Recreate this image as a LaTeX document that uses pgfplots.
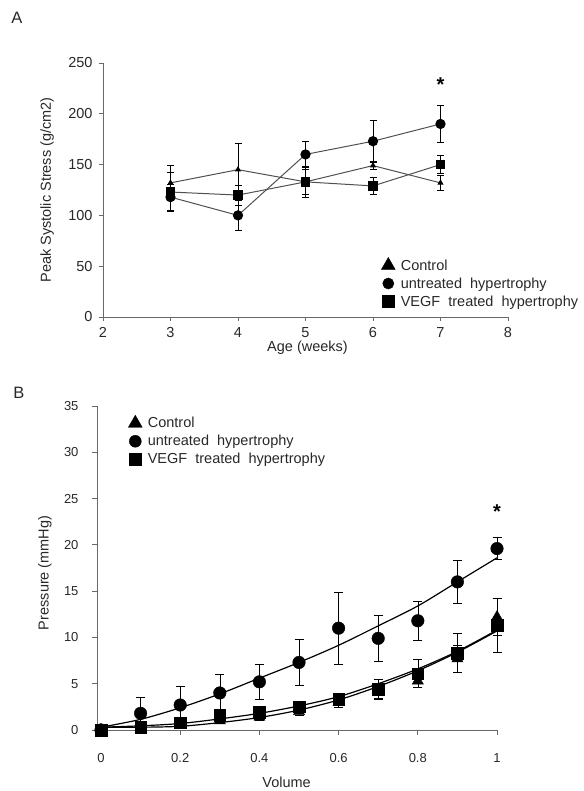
\documentclass[border=0pt]{standalone}
\usepackage{fontspec}
\setmainfont{Liberation Sans}
\usepackage{pgfplots}
\pgfplotsset{compat=1.18}

\definecolor{txt}{RGB}{40,40,40}
\definecolor{axgray}{RGB}{105,105,105}
\definecolor{linegray}{RGB}{80,80,80}

\pgfplotsset{
  panel/.style={
    scale only axis,
    axis x line*=bottom, axis y line*=left,
    axis line style={axgray, line width=0.8pt, -},
    tick align=outside, major tick length=4pt,
    tick style={axgray, line width=0.8pt},
    /pgf/number format/assume math mode=true,
    ticklabel style={text=txt},
    clip=false,
    legend cell align=left,
  },
  legmark/.style 2 args={legend image code/.code={%
    \path[draw=none, fill=none] (0pt,-5pt) rectangle (20pt,5pt);
    \draw[black,fill=black] plot[mark=#1, mark size=#2] coordinates {(8.5pt,0pt)};}},
  ebars/.style={error bars/.cd, y dir=both, y explicit,
    error bar style={black, line width=0.6pt},
    error mark options={rotate=90, mark size=#1, black, line width=0.6pt}},
}

\begin{document}
\begin{tikzpicture}
\path (0,0) rectangle (583pt,791pt);

% ---------- panel A ----------
\node[text=txt, font=\fontsize{16.5}{18}\selectfont] at (17pt,773pt) {A};
\begin{axis}[panel,
  at={(103pt,474pt)}, anchor=south west,
  width=405pt, height=254pt,
  xmin=2, xmax=8, ymin=0, ymax=250,
  xtick={2,...,8}, ytick={0,50,...,250},
  tick label style={font=\fontsize{14.5}{17}\selectfont},
  xticklabel style={yshift=-3pt},
  yticklabel style={xshift=-3pt},
  xlabel={Age (weeks)}, ylabel={Peak Systolic Stress (g/cm2)},
  every axis x label/.style={at={(axis description cs:0.505,-0.122)}, anchor=center,
    text=txt, font=\fontsize{14.5}{17}\selectfont},
  every axis y label/.style={at={(axis description cs:-0.138,0.5)}, rotate=90, anchor=center,
    text=txt, font=\fontsize{14.5}{17}\selectfont},
  legend style={at={(0.683,0.235)}, anchor=north west, draw=none, fill=none,
    inner sep=0pt, row sep=4pt, font=\fontsize{14.5}{17}\selectfont,
    nodes={inner sep=1pt, text=txt}},
]
\addlegendimage{legmark={triangle*}{8pt}}
\addlegendentry{Control}
\addlegendimage{legmark={*}{5.6pt}}
\addlegendentry{untreated\ \ hypertrophy}
\addlegendimage{legmark={square*}{6pt}}
\addlegendentry{VEGF\ \ treated\ \ hypertrophy}

\addplot[forget plot, linegray, line width=1pt, mark=triangle*, mark size=2.6pt,
  mark options={black}, ebars=3.5pt] table[x=x, y=y, y error=e] {
x y e
3 132 17
4 145 26
5 133 15
6 149 4
7 132 7
};
\addplot[forget plot, linegray, line width=1pt, mark=*, mark size=4.6pt,
  mark options={black}, ebars=3.5pt] table[x=x, y=y, y error=e] {
x y e
3 118 13
4 100 15
5 160 13
6 173 21
7 190 18
};
\addplot[forget plot, linegray, line width=1pt, mark=square*, mark size=4.3pt,
  mark options={black}, ebars=3.5pt] table[x=x, y=y, y error=e] {
x y e
3 123 19
4 120 10
5 133 12
6 129 8
7 150 9
};
\node[font=\fontsize{20}{20}\selectfont\bfseries, text=black] at (axis cs:7,229) {*};
\end{axis}

% ---------- panel B ----------
\node[text=txt, font=\fontsize{16.5}{18}\selectfont] at (19pt,398pt) {B};
\begin{axis}[panel,
  at={(97pt,61pt)}, anchor=south west,
  width=400pt, height=324pt,
  xmin=-0.0101, xmax=1, ymin=0, ymax=35,
  xtick={0,0.2,...,1}, ytick={0,5,...,35},
  major tick length=5pt,
  xticklabel style={yshift=-15pt},
  yticklabel style={xshift=-10pt},
  tick label style={font=\fontsize{13}{15}\selectfont},
  xlabel={Volume}, ylabel={Pressure (mmHg)},
  every axis x label/.style={at={(axis description cs:0.474,-0.16)}, anchor=center,
    text=txt, font=\fontsize{14.5}{17}\selectfont},
  every axis y label/.style={at={(axis description cs:-0.13,0.485)}, rotate=90, anchor=center,
    text=txt, font=\fontsize{14.5}{17}\selectfont},
  legend style={at={(0.074,0.972)}, anchor=north west, draw=none, fill=none,
    inner sep=0pt, row sep=4pt, font=\fontsize{14.5}{17}\selectfont,
    nodes={inner sep=1pt, text=txt}},
]
\addlegendimage{legmark={triangle*}{8pt}}
\addlegendentry{Control}
\addlegendimage{legmark={*}{6pt}}
\addlegendentry{untreated\ \ hypertrophy}
\addlegendimage{legmark={square*}{6.3pt}}
\addlegendentry{VEGF\ \ treated\ \ hypertrophy}

% fitted curves
\addplot[forget plot, black, line width=1.2pt, smooth] coordinates {
(0,0.3)(0.1,1.15)(0.2,2.4)(0.3,3.9)(0.4,5.6)(0.5,7.3)(0.6,9.15)(0.7,11.25)(0.8,13.4)(0.9,16.0)(1.0,18.6)};
\addplot[forget plot, black, line width=1.2pt, smooth] coordinates {
(0,0.3)(0.1,0.45)(0.2,0.7)(0.3,1.2)(0.4,1.8)(0.5,2.6)(0.6,3.6)(0.7,5.0)(0.8,6.6)(0.9,8.5)(1.0,10.8)};
\addplot[forget plot, black, line width=1.2pt, smooth] coordinates {
(0,0.3)(0.1,0.3)(0.2,0.4)(0.3,0.8)(0.4,1.35)(0.5,2.15)(0.6,3.25)(0.7,4.7)(0.8,6.4)(0.9,8.4)(1.0,10.7)};

% data points
\addplot[forget plot, only marks, black, mark=triangle*, mark size=6.5pt, ebars=4.5pt]
  table[x=x, y=y, y error=e] {
x y e
0 0 0.1
0.1 0.3 0.2
0.2 0.5 0.2
0.3 1.0 0.3
0.4 1.4 0.3
0.5 2.0 0.4
0.6 3.0 0.5
0.7 4.2 0.8
0.8 5.3 0.7
0.9 7.7 1.5
1.0 12.2 2.0
};
\addplot[forget plot, only marks, black, mark=square*, mark size=5.8pt, ebars=4.5pt]
  table[x=x, y=y, y error=e] {
x y e
0 0 0.1
0.1 0.3 0.3
0.2 0.8 0.3
0.3 1.6 0.5
0.4 1.9 0.4
0.5 2.5 0.4
0.6 3.3 0.4
0.7 4.4 1.1
0.8 6.1 1.5
0.9 8.3 2.1
1.0 11.3 2.9
};
\addplot[forget plot, only marks, black, mark=*, mark size=6.3pt, ebars=4.5pt]
  table[x=x, y=y, y error=e] {
x y e
0 0 0.3
0.1 1.8 1.7
0.2 2.7 2.0
0.3 4.0 2.0
0.4 5.2 1.9
0.5 7.3 2.5
0.6 11.0 3.9
0.7 9.9 2.5
0.8 11.8 2.1
0.9 16.0 2.3
1.0 19.6 1.2
};
\node[font=\fontsize{20}{20}\selectfont\bfseries, text=black] at (axis cs:1,23.6) {*};
\end{axis}
\end{tikzpicture}
\end{document}
